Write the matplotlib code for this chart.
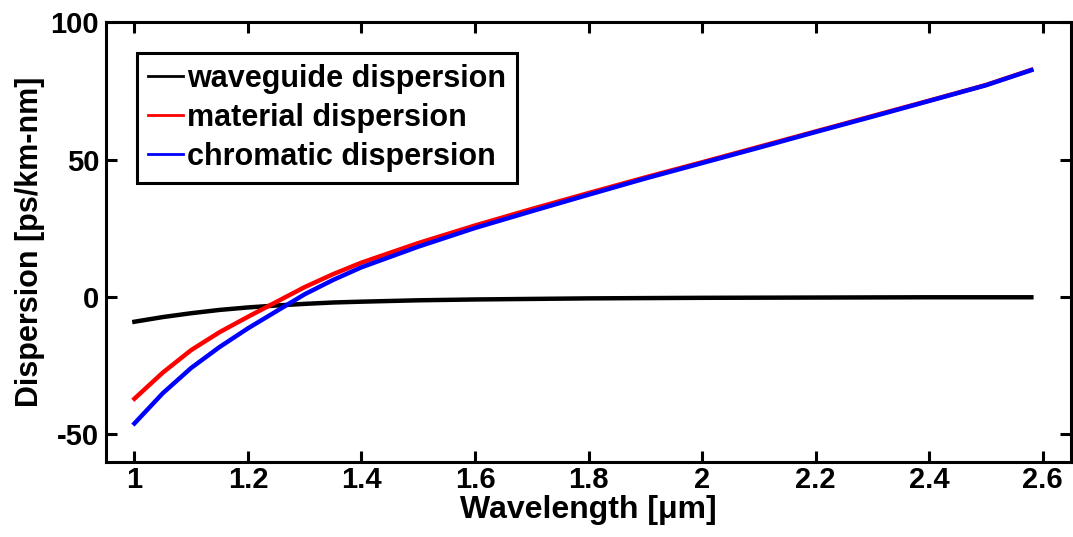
import matplotlib
matplotlib.use("Agg")
import matplotlib.pyplot as plt

plt.rcParams['font.family'] = ['Liberation Sans', 'DejaVu Sans']
plt.rcParams['font.weight'] = 'bold'
plt.rcParams['axes.unicode_minus'] = False

wavelength = [1.0, 1.05, 1.1, 1.15, 1.2, 1.25, 1.3, 1.35, 1.4, 1.5, 1.6, 1.7,
              1.8, 1.9, 2.0, 2.1, 2.2, 2.3, 2.4, 2.5, 2.58]
waveguide = [-9.0, -7.3, -5.9, -4.7, -3.8, -3.1, -2.5, -2.0, -1.7, -1.2, -0.9, -0.7,
             -0.5, -0.4, -0.3, -0.25, -0.2, -0.15, -0.1, -0.1, -0.1]
material = [-37.0, -27.5, -19.3, -12.8, -7.2, -1.8, 3.6, 8.3, 12.5, 19.6, 26.0, 32.0,
            37.8, 43.5, 49.0, 54.6, 60.2, 65.8, 71.4, 77.1, 82.6]
chromatic = [-46.0, -35.0, -25.8, -18.2, -11.4, -5.2, 1.0, 6.2, 10.8, 18.3, 25.1, 31.2,
             37.2, 43.1, 48.7, 54.3, 60.0, 65.6, 71.3, 77.0, 82.5]

labels = ['waveguide dispersion', 'material dispersion', 'chromatic dispersion']
colors = ['black', '#ff0000', '#0000ff']
xticks = [1, 1.2, 1.4, 1.6, 1.8, 2, 2.2, 2.4, 2.6]
xticklabels = ['1', '1.2', '1.4', '1.6', '1.8', '2', '2.2', '2.4', '2.6']
yticks = [-50, 0, 50, 100]

fig = plt.figure(figsize=(10.73, 5.37), dpi=100)
ax = fig.add_axes([0.0988, 0.1397, 0.8994, 0.8193])

for ys, c, lab in zip([waveguide, material, chromatic], colors, labels):
    ax.plot(wavelength, ys, color=c, lw=3.2, label=lab)

ax.set_xlim(0.95, 2.65)
ax.set_ylim(-60, 100)
ax.set_xticks(xticks)
ax.set_xticklabels(xticklabels)
ax.set_yticks(yticks)
ax.tick_params(direction='in', length=8, width=2.2, labelsize=21, top=True, right=True)
ax.tick_params(axis='x', pad=3)
ax.tick_params(axis='y', pad=5)
for s in ax.spines.values():
    s.set_linewidth(2.2)

ax.set_xlabel('Wavelength [\u03bcm]', fontsize=23, fontweight='bold')
ax.xaxis.set_label_coords(0.5, -0.075)
ax.set_ylabel('Dispersion [ps/km-nm]', fontsize=22, fontweight='bold', labelpad=4)

leg = ax.legend(loc='upper left', bbox_to_anchor=(0.032, 0.93), borderaxespad=0,
                fontsize=22, handlelength=1.15, handletextpad=0.15, labelspacing=0.3,
                borderpad=0.35, fancybox=False, framealpha=1, edgecolor='black')
leg.get_frame().set_linewidth(2.2)
for h in leg.get_lines():
    h.set_linewidth(2.0)

fig.savefig('out.png', dpi=100)
